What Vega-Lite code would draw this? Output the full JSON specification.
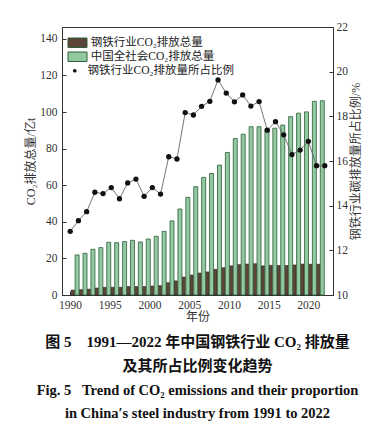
{
  "$schema": "https://vega.github.io/schema/vega-lite/v6.json",
  "width": 271,
  "height": 268,
  "autosize": "none",
  "padding": {"left": 62, "top": 27, "right": 56, "bottom": 133},
  "background": "white",
  "config": {
    "view": {"stroke": "#333", "strokeWidth": 1},
    "font": "Liberation Serif, Noto Sans CJK SC",
    "axis": {
      "labelFont": "Liberation Serif",
      "labelFontSize": 11.5,
      "labelColor": "#333",
      "labelOverlap": false,
      "titleFont": "Liberation Serif, Noto Sans CJK SC",
      "titleFontSize": 12,
      "titleFontWeight": "normal",
      "titleColor": "#333",
      "domainColor": "#333",
      "tickColor": "#333",
      "grid": false,
      "tickSize": -4
    },
    "legend": {
      "title": null,
      "orient": "none",
      "padding": 0,
      "labelFont": "Liberation Serif, Noto Sans CJK SC",
      "labelFontSize": 11.5,
      "labelColor": "#222",
      "labelLimit": 300,
      "rowPadding": 0,
      "symbolOpacity": 1
    }
  },
  "data": {
    "values": [
      {"year": 1991, "steel": 2.7, "total": 21.9, "ratio": 12.85},
      {"year": 1992, "steel": 2.9, "total": 22.8, "ratio": 13.33},
      {"year": 1993, "steel": 3.2, "total": 25.0, "ratio": 13.73},
      {"year": 1994, "steel": 3.8, "total": 25.9, "ratio": 14.60},
      {"year": 1995, "steel": 4.2, "total": 28.8, "ratio": 14.54},
      {"year": 1996, "steel": 4.2, "total": 28.6, "ratio": 14.81},
      {"year": 1997, "steel": 4.2, "total": 29.2, "ratio": 14.31},
      {"year": 1998, "steel": 4.6, "total": 29.9, "ratio": 15.02},
      {"year": 1999, "steel": 4.6, "total": 29.0, "ratio": 15.19},
      {"year": 2000, "steel": 4.6, "total": 30.6, "ratio": 14.42},
      {"year": 2001, "steel": 4.9, "total": 32.1, "ratio": 14.81},
      {"year": 2002, "steel": 5.1, "total": 34.8, "ratio": 14.52},
      {"year": 2003, "steel": 6.7, "total": 40.5, "ratio": 16.19},
      {"year": 2004, "steel": 7.7, "total": 47.0, "ratio": 16.09},
      {"year": 2005, "steel": 9.8, "total": 53.4, "ratio": 18.17},
      {"year": 2006, "steel": 10.9, "total": 59.2, "ratio": 18.06},
      {"year": 2007, "steel": 12.0, "total": 64.3, "ratio": 18.45},
      {"year": 2008, "steel": 12.6, "total": 66.4, "ratio": 18.67},
      {"year": 2009, "steel": 14.0, "total": 71.0, "ratio": 19.63},
      {"year": 2010, "steel": 14.9, "total": 77.9, "ratio": 19.04},
      {"year": 2011, "steel": 15.9, "total": 85.5, "ratio": 18.65},
      {"year": 2012, "steel": 16.6, "total": 87.9, "ratio": 18.96},
      {"year": 2013, "steel": 16.9, "total": 92.0, "ratio": 18.46},
      {"year": 2014, "steel": 17.1, "total": 92.0, "ratio": 18.66},
      {"year": 2015, "steel": 15.9, "total": 90.8, "ratio": 17.38},
      {"year": 2016, "steel": 16.2, "total": 91.2, "ratio": 17.76},
      {"year": 2017, "steel": 16.1, "total": 92.9, "ratio": 17.17},
      {"year": 2018, "steel": 16.1, "total": 97.5, "ratio": 16.29},
      {"year": 2019, "steel": 16.4, "total": 99.4, "ratio": 16.49},
      {"year": 2020, "steel": 16.9, "total": 100.1, "ratio": 16.88},
      {"year": 2021, "steel": 16.8, "total": 105.9, "ratio": 15.79},
      {"year": 2022, "steel": 16.8, "total": 106.2, "ratio": 15.79}
    ]
  },
  "title": {
    "text": ["图 5\u20031991—2022 年中国钢铁行业 CO₂ 排放量", "及其所占比例变化趋势"],
    "subtitle": ["Fig. 5\u2002 Trend of CO₂ emissions and their proportion", "in China′s steel industry from 1991 to 2022"],
    "orient": "bottom",
    "anchor": "middle",
    "font": "Liberation Serif, Noto Sans CJK SC",
    "fontSize": 15,
    "fontWeight": "bold",
    "lineHeight": 24,
    "color": "#111",
    "subtitleFont": "Liberation Serif",
    "subtitleFontSize": 14.5,
    "subtitleFontWeight": "bold",
    "subtitleLineHeight": 23,
    "subtitleColor": "#111",
    "subtitlePadding": 10,
    "offset": 12
  },
  "layer": [
    {
      "mark": {"type": "point", "opacity": 0},
      "encoding": {
        "x": {
          "field": "year",
          "type": "quantitative",
          "scale": {"domain": [1989, 2023.1], "nice": false, "zero": false},
          "axis": {"title": "年份", "values": [1990, 1995, 2000, 2005, 2010, 2015, 2020], "tickCount": 10, "format": "d", "labelPadding": 8, "titlePadding": 1, "labelFlush": false}
        }
      }
    },
    {
      "layer": [
        {
          "mark": {"type": "bar", "width": 3.5, "xOffset": -2, "stroke": "#2a1d16", "strokeWidth": 0.6},
          "encoding": {
            "x": {"field": "year", "type": "quantitative", "scale": {"domain": [1990, 2023], "nice": false, "zero": false}, "axis": null},
            "y": {
              "field": "steel",
              "type": "quantitative",
              "scale": {"domain": [0, 146.5], "nice": false},
              "axis": {"title": "CO₂排放总量/亿t", "values": [0, 20, 40, 60, 80, 100, 120, 140], "tickCount": 10, "labelOverlap": false, "labelPadding": 9, "titlePadding": 2}
            },
            "color": {
              "datum": "钢铁行业CO₂排放总量",
              "scale": {
                "domain": ["钢铁行业CO₂排放总量", "中国全社会CO₂排放总量"],
                "range": ["#5c4538", "#93c9a1"]
              },
              "legend": {
                "legendX": 9.75,
                "legendY": 10,
                "labelOffset": 7.5,
                "symbolSize": 90,
                "symbolType": "M-2,-1H2V1H-2Z",
                "symbolStrokeColor": "#2a2a2a",
                "symbolStrokeWidth": 1
              }
            }
          }
        },
        {
          "mark": {"type": "bar", "width": 4, "xOffset": 2.2, "stroke": "#2d5e3a", "strokeWidth": 0.8},
          "encoding": {
            "x": {"field": "year", "type": "quantitative", "scale": {"domain": [1990, 2023], "nice": false, "zero": false}, "axis": null},
            "y": {"field": "total", "type": "quantitative"},
            "color": {"datum": "中国全社会CO₂排放总量"}
          }
        }
      ]
    },
    {
      "layer": [
        {
          "mark": {"type": "line", "color": "#666", "strokeWidth": 0.9},
          "encoding": {
            "x": {"field": "year", "type": "quantitative", "scale": {"domain": [1990, 2023], "nice": false, "zero": false}, "axis": null},
            "y": {
              "field": "ratio",
              "type": "quantitative",
              "scale": {"domain": [10, 22], "nice": false, "zero": false},
              "axis": {"orient": "right", "title": "钢铁行业碳排放量所占比例/%", "titleAngle": -90, "titleBaseline": "top", "values": [10, 12, 14, 16, 18, 20, 22], "tickCount": 10, "labelPadding": 7, "titlePadding": 3}
            }
          }
        },
        {
          "mark": {"type": "point", "filled": true, "opacity": 1, "size": 28, "color": "#111"},
          "encoding": {
            "x": {"field": "year", "type": "quantitative", "scale": {"domain": [1990, 2023], "nice": false, "zero": false}, "axis": null},
            "y": {"field": "ratio", "type": "quantitative"},
            "shape": {
              "datum": "钢铁行业CO₂排放量所占比例",
              "scale": {"domain": ["钢铁行业CO₂排放量所占比例"], "range": ["circle"]},
              "legend": {
                "legendX": 7,
                "legendY": 38,
                "labelOffset": 7,
                "symbolSize": 14,
                "symbolType": "circle",
                "symbolFillColor": "#111",
                "symbolStrokeColor": "#111",
                "symbolStrokeWidth": 0
              }
            }
          }
        }
      ]
    }
  ],
  "resolve": {"scale": {"x": "independent", "y": "independent"}}
}
